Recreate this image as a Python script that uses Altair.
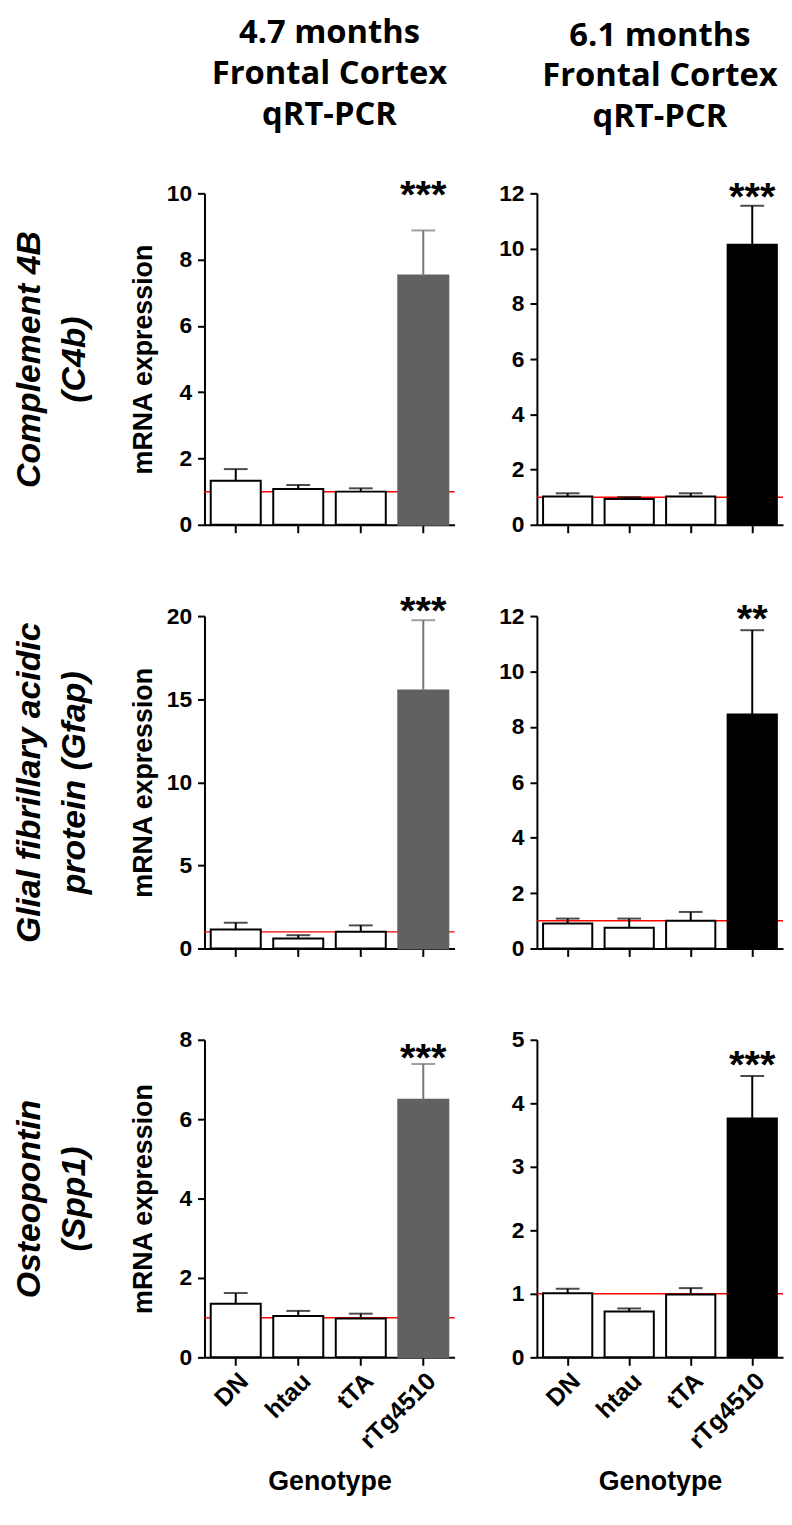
import altair as alt
import pandas as pd

genotypes = ["DN", "htau", "tTA", "rTg4510"]

# mean bar heights and top of the error bar (mean + SEM)
c4b_47_mean = [1.33, 1.08, 1.00, 7.52]
c4b_47_upper = [1.68, 1.20, 1.10, 8.88]
c4b_61_mean = [1.02, 0.93, 1.02, 10.14]
c4b_61_upper = [1.14, 1.00, 1.14, 11.55]
gfap_47_mean = [1.15, 0.60, 1.01, 15.52]
gfap_47_upper = [1.55, 0.80, 1.39, 19.75]
gfap_61_mean = [0.90, 0.75, 1.00, 8.45]
gfap_61_upper = [1.08, 1.08, 1.32, 11.49]
spp1_47_mean = [1.35, 1.04, 0.98, 6.49]
spp1_47_upper = [1.62, 1.17, 1.10, 7.39]
spp1_61_mean = [1.01, 0.72, 0.99, 3.76]
spp1_61_upper = [1.08, 0.77, 1.09, 4.43]

reference_level = [1.0]

significance = ["***", "***", "***", "**", "***", "***"]
sig_height = [10.12, 12.07, 20.66, 12.09, 7.70, 4.69]

y_max = [10, 12, 20, 12, 8, 5]
y_step = [2, 2, 5, 2, 2, 1]

gene_labels = [
    ["Complement 4B", "(C4b)"],
    ["Glial fibrillary acidic", "protein (Gfap)"],
    ["Osteopontin", "(Spp1)"],
]
age_titles = [
    ["4.7 months", "Frontal Cortex", "qRT-PCR"],
    ["6.1 months", "Frontal Cortex", "qRT-PCR"],
]

panel_values = [
    (c4b_47_mean, c4b_47_upper),
    (c4b_61_mean, c4b_61_upper),
    (gfap_47_mean, gfap_47_upper),
    (gfap_61_mean, gfap_61_upper),
    (spp1_47_mean, spp1_47_upper),
    (spp1_61_mean, spp1_61_upper),
]

col_width = [252, 248]
row_height = [334, 335, 320]
dark_fill = ["#616161", "#000000"]
dark_err = ["#777777", "#000000"]

FONT = "Liberation Sans"


def panel(idx):
    row, col = divmod(idx, 2)
    means, uppers = panel_values[idx]
    df = pd.DataFrame({"genotype": genotypes, "mean": means, "upper": uppers})
    sig_df = pd.DataFrame({
        "genotype": [genotypes[-1]],
        "star": [sig_height[idx]],
        "sig": [significance[idx]],
    })
    ref_df = pd.DataFrame({"ref": reference_level})

    ysc = alt.Scale(domain=[0, y_max[idx]], nice=False, zero=True)
    xsc = alt.Scale(paddingInner=0.2, paddingOuter=0.1)
    bottom = row == 2

    if bottom:
        xaxis = alt.Axis(labels=True, title="Genotype", labelAngle=-45,
                         labelFontSize=25, labelPadding=3, titleFontSize=27,
                         titlePadding=16, tickSize=8)
    else:
        xaxis = alt.Axis(labels=False, title=None, tickSize=8)
    xenc = alt.X("genotype:N", sort=genotypes, scale=xsc, axis=xaxis)

    ticks = list(range(0, y_max[idx] + 1, y_step[idx]))
    if col == 0:
        yaxis = alt.Axis(values=ticks, title="mRNA expression", titleFontSize=27,
                         titlePadding=8, labelFontSize=23, labelPadding=6,
                         tickSize=7, minExtent=39, maxExtent=39)
    else:
        yaxis = alt.Axis(values=ticks, title=None, labelFontSize=23,
                         labelPadding=6, tickSize=7)

    is_tg = alt.datum.genotype == "rTg4510"

    red = alt.Chart(ref_df).mark_rule(color="#ff0000", strokeWidth=1.5).encode(
        y=alt.Y("ref:Q", scale=ysc, axis=None)
    )
    bars = alt.Chart(df).mark_bar(strokeWidth=2).encode(
        x=xenc,
        y=alt.Y("mean:Q", scale=ysc, axis=yaxis),
        fill=alt.condition(is_tg, alt.value(dark_fill[col]), alt.value("white")),
        stroke=alt.condition(is_tg, alt.value(dark_fill[col]), alt.value("black")),
    )
    err = alt.Chart(df).mark_rule(strokeWidth=2).encode(
        x=xenc,
        y=alt.Y("mean:Q", scale=ysc, axis=None),
        y2="upper:Q",
        color=alt.condition(is_tg, alt.value(dark_err[col]), alt.value("black")),
    )
    if col == 0:
        label_axis = alt.Axis(orient="left", domain=False, ticks=False, labels=False,
                              grid=False, title=gene_labels[row], titleFont=FONT,
                              titleFontSize=34, titleFontStyle="italic",
                              titleFontWeight="bold", titleLineHeight=45,
                              titlePadding=114, minExtent=0, maxExtent=0)
    else:
        label_axis = None
    cap = alt.Chart(df).mark_tick(thickness=2, size=24).encode(
        x=xenc,
        y=alt.Y("upper:Q", scale=ysc, axis=label_axis),
        color=alt.condition(is_tg, alt.value(dark_err[col]), alt.value("black")),
    )
    stars = alt.Chart(sig_df).mark_text(
        font=FONT, fontSize=40, fontWeight="bold", baseline="middle", dy=7,
        color="black"
    ).encode(
        x=xenc,
        y=alt.Y("star:Q", scale=ysc, axis=None),
        text="sig:N",
    )

    layer = alt.layer(red, bars, err, cap, stars).resolve_axis(y="independent")
    props = dict(width=col_width[col], height=row_height[row])
    if row == 0:
        props["title"] = alt.Title(
            age_titles[col], font="Open Sans", fontSize=33, fontWeight="bold",
            lineHeight=41, anchor="middle", frame="group", offset=45, color="black"
        )
    return layer.properties(**props)


cells = [panel(i) for i in range(6)]

chart = alt.concat(
    *cells, columns=2, spacing={"row": 92, "column": 83}, bounds="flush"
).resolve_scale(x="independent", y="independent").properties(
    padding={"left": 5, "top": 3, "right": 0, "bottom": 0}
).configure_view(stroke=None).configure_axis(
    grid=False,
    domainColor="black", domainWidth=2,
    tickColor="black", tickWidth=2,
    labelColor="black", labelFont=FONT, labelFontWeight="bold",
    titleColor="black", titleFont=FONT, titleFontWeight="bold",
)

chart.save("out.html", embed_options={"renderer": "svg", "actions": False})
